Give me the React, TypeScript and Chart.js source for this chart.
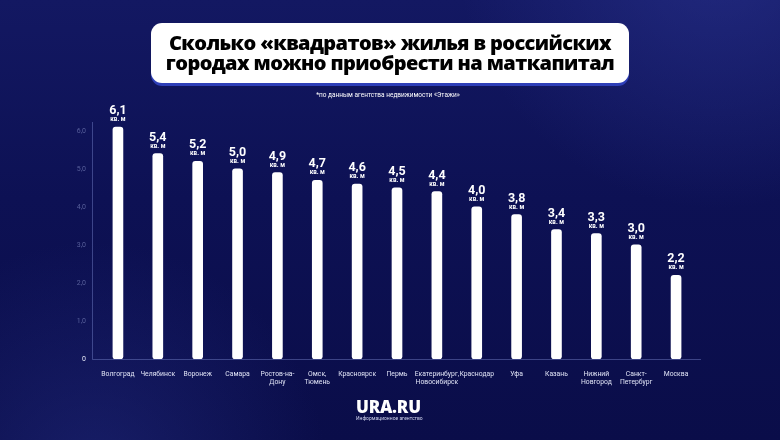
import React, { useEffect, useRef } from "react";
import { Chart, registerables } from "chart.js";

Chart.register(...registerables);

const cities: (string | string[])[] = [
  "Волгоград",
  "Челябинск",
  "Воронеж",
  "Самара",
  ["Ростов-на-", "Дону"],
  ["Омск,", "Тюмень"],
  "Красноярск",
  "Пермь",
  ["Екатеринбург,", "Новосибирск"],
  "Краснодар",
  "Уфа",
  "Казань",
  ["Нижний", "Новгород"],
  ["Санкт-", "Петербург"],
  "Москва",
];
const values = [6.1, 5.4, 5.2, 5.0, 4.9, 4.7, 4.6, 4.5, 4.4, 4.0, 3.8, 3.4, 3.3, 3.0, 2.2];
const yTickValues = [0, 1, 2, 3, 4, 5, 6];
const yTickLabels = ["0", "1,0", "2,0", "3,0", "4,0", "5,0", "6,0"];
const unitLabel = "кв. м";
const titleLines = ["Сколько «квадратов» жилья в российских", "городах можно приобрести на маткапитал"];
const footnote = "*по данным агентства недвижимости «Этажи»";
const logoText = "URA.RU";
const logoSub = "Информационное агентство";

export default function App() {
  const ref = useRef<HTMLCanvasElement>(null);

  useEffect(() => {
    const canvas = ref.current;
    if (!canvas) return;

    const axisLines = {
      id: "axisLines",
      beforeDatasetsDraw(chart: any) {
        const { ctx, chartArea } = chart;
        ctx.save();
        ctx.strokeStyle = "rgba(120,132,205,0.45)";
        ctx.lineWidth = 1;
        ctx.beginPath();
        ctx.moveTo(chartArea.left - 5.5, chartArea.top + 14);
        ctx.lineTo(chartArea.left - 5.5, chartArea.bottom + 0.5);
        ctx.lineTo(chartArea.right + 5, chartArea.bottom + 0.5);
        ctx.stroke();
        ctx.restore();
      },
    };

    const valueLabels = {
      id: "valueLabels",
      afterDatasetsDraw(chart: any) {
        const { ctx } = chart;
        const meta = chart.getDatasetMeta(0);
        ctx.save();
        ctx.fillStyle = "#ffffff";
        ctx.textAlign = "center";
        ctx.textBaseline = "middle";
        meta.data.forEach((bar: any, i: number) => {
          const txt = values[i].toFixed(1).replace(".", ",");
          ctx.font = "bold 12.5px Roboto, 'DejaVu Sans', sans-serif";
          ctx.fillText(txt, bar.x, bar.y - 16);
          ctx.font = "bold 6.3px Roboto, 'DejaVu Sans', sans-serif";
          ctx.fillText(unitLabel, bar.x, bar.y - 7.5);
        });
        ctx.restore();
      },
    };

    const chart = new Chart(canvas, {
      type: "bar",
      data: {
        labels: cities as any,
        datasets: [
          {
            data: values,
            backgroundColor: "#ffffff",
            barThickness: 10,
            borderRadius: 3,
            borderSkipped: false,
          },
        ],
      },
      options: {
        animation: false,
        responsive: false,
        maintainAspectRatio: false,
        layout: { padding: { top: 108, right: 84, left: 0, bottom: 0 } },
        plugins: {
          legend: { display: false },
          tooltip: { enabled: false },
        },
        scales: {
          x: {
            grid: { display: false },
            border: { display: false },
            ticks: {
              color: "#dfe2f5",
              font: { family: "Roboto, 'DejaVu Sans', sans-serif", size: 6.8, lineHeight: 1.1 },
              padding: 4,
              maxRotation: 0,
              autoSkip: false,
            },
            afterFit(s: any) {
              s.height = 81;
            },
          },
          y: {
            min: 0,
            max: 6.6,
            afterBuildTicks(s: any) {
              s.ticks = yTickValues.map((v) => ({ value: v }));
            },
            grid: { display: false, drawTicks: false },
            border: { display: false },
            ticks: {
              padding: 12,
              color: (c: any) => (c.index === 0 ? "#e6e8f7" : "rgba(135,145,200,0.6)"),
              font: { family: "Roboto, 'DejaVu Sans', sans-serif", size: 7 },
              callback: (_v: any, i: number) => yTickLabels[i],
            },
            afterFit(s: any) {
              s.width = 98;
            },
          },
        },
      },
      plugins: [axisLines, valueLabels],
    });

    return () => chart.destroy();
  }, []);

  return (
    <div
      style={{
        position: "absolute",
        left: 0,
        top: 0,
        width: 780,
        height: 440,
        overflow: "hidden",
        background:
          "radial-gradient(circle at 92% -12%, rgba(45,55,150,0.55) 0%, rgba(45,55,150,0) 30%), radial-gradient(circle at 12% 108%, rgba(40,50,140,0.45) 0%, rgba(40,50,140,0) 28%), linear-gradient(180deg, #131862 0%, #0d1154 45%, #0a0d49 100%)",
        fontFamily: "'Open Sans', Roboto, sans-serif",
      }}
    >
      <canvas ref={ref} width={780} height={440} style={{ position: "absolute", left: 0, top: 0 }} />
      <div
        style={{
          position: "absolute",
          left: 151,
          top: 23,
          width: 478,
          height: 60,
          background: "#ffffff",
          borderRadius: 11,
          boxShadow: "0 3px 0 #2e3fb8",
          display: "flex",
          flexDirection: "column",
          alignItems: "center",
          justifyContent: "center",
          color: "#000000",
          fontWeight: 800,
          fontSize: 20,
          lineHeight: "20px",
          letterSpacing: -0.6,
          whiteSpace: "nowrap",
        }}
      >
        {titleLines.map((l, i) => (
          <div key={i}>{l}</div>
        ))}
      </div>
      <div
        style={{
          position: "absolute",
          left: 0,
          width: 776,
          top: 91,
          textAlign: "center",
          color: "#ffffff",
          fontSize: 6.5,
          fontFamily: "Roboto, sans-serif",
        }}
      >
        {footnote}
      </div>
      <div style={{ position: "absolute", left: 356, top: 398, color: "#ffffff" }}>
        <div style={{ fontFamily: "'Open Sans', sans-serif", fontWeight: 800, fontSize: 17, lineHeight: "17px", letterSpacing: -0.2 }}>
          {logoText}
        </div>
        <div style={{ fontFamily: "Roboto, sans-serif", fontSize: 5, lineHeight: "7px", color: "#d0d4ee" }}>{logoSub}</div>
      </div>
    </div>
  );
}
